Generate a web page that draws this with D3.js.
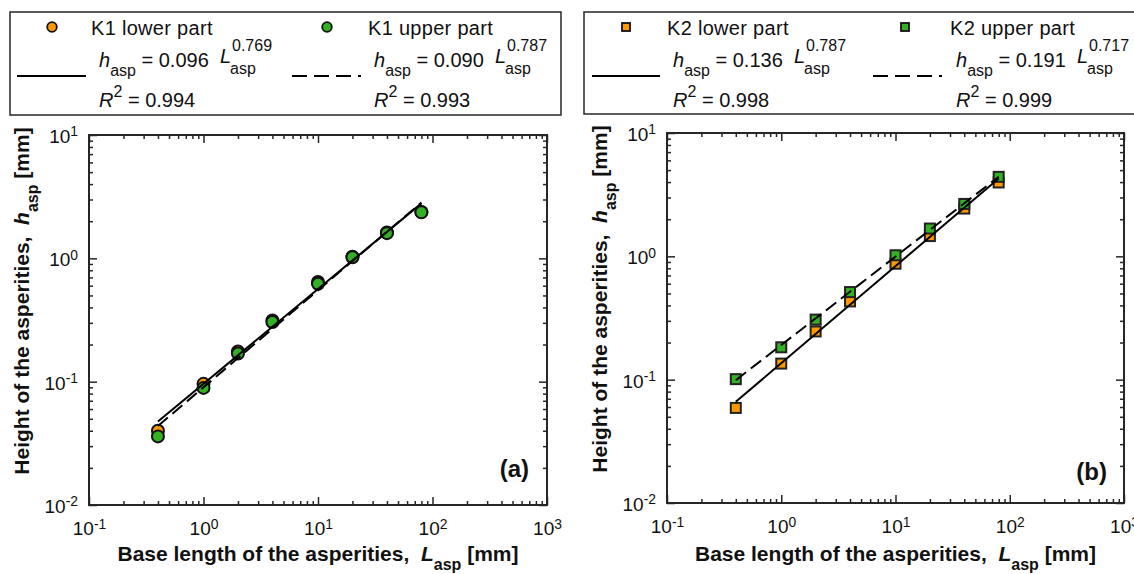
<!DOCTYPE html>
<html>
<head>
<meta charset="utf-8">
<script src="https://cdn.jsdelivr.net/npm/d3@7"></script>
<style>
  html, body { margin: 0; padding: 0; background: #fff; }
  svg { display: block; font-family: "Liberation Sans", Arial, Helvetica, sans-serif; }
  text { white-space: pre; }
</style>
</head>
<body>
<svg id="chart" width="1134" height="574"></svg>
<script>
// Base lengths of the asperities [mm]
const baseLength = [0.4, 1, 2, 4, 10, 20, 40, 80];

// Measured asperity heights [mm]
const k1Lower = [0.040, 0.096, 0.176, 0.314, 0.643, 1.03, 1.62, 2.38];
const k1Upper = [0.036, 0.089, 0.169, 0.305, 0.623, 1.02, 1.60, 2.36];
const k2Lower = [0.059, 0.135, 0.246, 0.431, 0.871, 1.46, 2.44, 3.97];
const k2Upper = [0.101, 0.183, 0.307, 0.513, 1.02, 1.68, 2.66, 4.41];

// Power-law fits h = a * L^b  (lower part, upper part)
const k1FitCoef = [0.096, 0.090];
const k1FitExp  = [0.769, 0.787];
const k1FitR2   = [0.994, 0.993];
const k2FitCoef = [0.136, 0.191];
const k2FitExp  = [0.787, 0.717];
const k2FitR2   = [0.998, 0.999];

const seriesNames = [["K1 lower part", "K1 upper part"], ["K2 lower part", "K2 upper part"]];
const panelTags = ["(a)", "(b)"];

// Axis tick values
const xMajor = [0.1, 1, 10, 100, 1000];
const yMajor = [0.01, 0.1, 1, 10];

const ORANGE = "#ff9900";
const GREEN = "#33b024";
const AXIS = "#262626";

const svg = d3.select("#chart");
svg.append("rect").attr("width", 1134).attr("height", 574).attr("fill", "#fff");

function minorTicks(majors) {
  const out = [];
  for (let i = 0; i < majors.length - 1; i++)
    for (let k = 2; k <= 9; k++) out.push(k * majors[i]);
  return out;
}

function powLabel(sel) {
  sel.each(function (d) {
    const e = Math.round(Math.log10(d));
    const t = d3.select(this);
    t.text("10");
    t.append("tspan").attr("dy", "-0.5em").attr("font-size", "0.73em").text(e);
  });
}

function drawPanel(cfg) {
  const { left, top, right, bottom } = cfg.box;
  const w = right - left, h = bottom - top;
  const x = d3.scaleLog().domain([0.1, 1000]).range([0, w]);
  const y = d3.scaleLog().domain([0.01, 10]).range([h, 0]);
  const g = svg.append("g").attr("transform", `translate(${left},${top})`);

  const xMinor = minorTicks(xMajor), yMinor = minorTicks(yMajor);
  const styleAxis = a => {
    a.select(".domain").remove();
    a.selectAll("line").attr("stroke", AXIS).attr("stroke-width", 1.5);
    a.selectAll("text").attr("fill", "#111").attr("font-size", 19);
  };

  // minor ticks on all four sides (inward)
  g.append("g").attr("transform", `translate(0,${h})`)
    .call(d3.axisBottom(x).tickValues(xMinor).tickSize(-4).tickFormat("")).call(styleAxis);
  g.append("g").call(d3.axisTop(x).tickValues(xMinor).tickSize(-4).tickFormat("")).call(styleAxis);
  g.append("g").call(d3.axisLeft(y).tickValues(yMinor).tickSize(-4).tickFormat("")).call(styleAxis);
  g.append("g").attr("transform", `translate(${w},0)`)
    .call(d3.axisRight(y).tickValues(yMinor).tickSize(-4).tickFormat("")).call(styleAxis);

  // major ticks + labels
  g.append("g").attr("transform", `translate(0,${h})`)
    .call(d3.axisBottom(x).tickValues(xMajor).tickSize(-8).tickPadding(17).tickFormat(d => d))
    .call(styleAxis).call(a => a.selectAll("text").call(powLabel));
  g.append("g").call(d3.axisTop(x).tickValues(xMajor).tickSize(-8).tickFormat("")).call(styleAxis);
  g.append("g")
    .call(d3.axisLeft(y).tickValues(yMajor).tickSize(-8).tickPadding(11).tickFormat(d => d))
    .call(styleAxis).call(a => a.selectAll("text").attr("dy", "0.4em").call(powLabel));
  g.append("g").attr("transform", `translate(${w},0)`)
    .call(d3.axisRight(y).tickValues(yMajor).tickSize(-8).tickFormat("")).call(styleAxis);

  // frame
  g.append("rect").attr("width", w).attr("height", h)
    .attr("fill", "none").attr("stroke", AXIS).attr("stroke-width", 2);

  const pts = (vals) => baseLength.map((L, i) => [L, vals[i]]);
  const plot = g.append("g");

  // data markers
  [[cfg.lower, ORANGE], [cfg.upper, GREEN]].forEach(([vals, col]) => {
    const sel = plot.selectAll(null).data(pts(vals)).enter();
    if (cfg.shape === "circle") {
      sel.append("circle").attr("cx", d => x(d[0])).attr("cy", d => y(d[1])).attr("r", 6)
        .attr("fill", col).attr("stroke", "#111").attr("stroke-width", 2);
    } else {
      sel.append("rect").attr("x", d => x(d[0]) - 5).attr("y", d => y(d[1]) - 5)
        .attr("width", 10).attr("height", 10)
        .attr("fill", col).attr("stroke", "#222").attr("stroke-width", 2);
    }
  });

  // fitted power laws over the measured range
  const ext = d3.extent(baseLength);
  const line = d3.line().x(d => x(d[0])).y(d => y(d[1]));
  cfg.coef.forEach((a, i) => {
    const b = cfg.exp[i];
    plot.append("path")
      .attr("d", line(ext.map(L => [L, a * Math.pow(L, b)])))
      .attr("fill", "none").attr("stroke", "#000").attr("stroke-width", 2)
      .attr("stroke-dasharray", i === 1 ? "13,6" : null);
  });

  // panel tag
  g.append("text").attr("x", cfg.tagX - left).attr("y", cfg.tagY - top)
    .attr("text-anchor", "end").attr("font-size", 24).attr("font-weight", "bold")
    .attr("fill", "#111").text(cfg.tag);

  // axis titles
  const xt = svg.append("text").attr("x", left + w / 2).attr("y", 561)
    .attr("text-anchor", "middle").attr("font-size", 21).attr("font-weight", "bold").attr("fill", "#111");
  xt.append("tspan").text("Base length of the asperities,  ");
  xt.append("tspan").attr("font-style", "italic").text("L");
  xt.append("tspan").attr("font-size", 16).attr("dy", 9).text("asp");
  xt.append("tspan").attr("dy", -9).text(" [mm]");

  const yt = svg.append("text")
    .attr("transform", `translate(${left - 60},${cfg.yTitleCenter}) rotate(-90)`)
    .attr("text-anchor", "middle").attr("font-size", 21).attr("font-weight", "bold").attr("fill", "#111");
  yt.append("tspan").text("Height of the asperities,  ");
  yt.append("tspan").attr("font-style", "italic").text("h");
  yt.append("tspan").attr("font-size", 16).attr("dy", 9).text("asp");
  yt.append("tspan").attr("dy", -9).text(" [mm]");
}

// ---- legend ----
function drawLegend(cfg) {
  const g = svg.append("g");
  g.append("rect").attr("x", cfg.box[0]).attr("y", cfg.box[1])
    .attr("width", cfg.box[2] - cfg.box[0]).attr("height", cfg.box[3] - cfg.box[1])
    .attr("fill", "#fff").attr("stroke", AXIS).attr("stroke-width", 1.5);

  cfg.cols.forEach((c, i) => {
    const col = i === 0 ? ORANGE : GREEN;
    // marker
    if (cfg.shape === "circle") {
      g.append("circle").attr("cx", c.marker).attr("cy", 27).attr("r", 4.8)
        .attr("fill", col).attr("stroke", "#111").attr("stroke-width", 1.8);
    } else {
      g.append("rect").attr("x", c.marker - 4).attr("y", 23).attr("width", 8).attr("height", 8)
        .attr("fill", col).attr("stroke", "#111").attr("stroke-width", 1.8);
    }
    g.append("text").attr("x", c.label).attr("y", 35).attr("font-size", 20)
      .attr("letter-spacing", 0.3).attr("fill", "#111")
      .text(cfg.names[i]);

    // line sample
    g.append("line").attr("x1", c.line[0]).attr("x2", c.line[1]).attr("y1", 76).attr("y2", 76)
      .attr("stroke", "#000").attr("stroke-width", 2)
      .attr("stroke-dasharray", i === 1 ? "15,7" : null);

    // fit equation
    const t = g.append("text").attr("x", c.eq).attr("y", 67).attr("font-size", 20).attr("fill", "#111");
    t.append("tspan").attr("font-style", "italic").text("h");
    t.append("tspan").attr("font-size", 16).attr("dy", 9).text("asp");
    t.append("tspan").attr("dy", -9).text(` = ${cfg.coef[i].toFixed(3)}  `);
    const lx = c.eq + t.node().getComputedTextLength();
    const L = g.append("text").attr("x", lx).attr("y", 63).attr("font-size", 20)
      .attr("font-style", "italic").attr("fill", "#111").text("L");
    const lw = L.node().getComputedTextLength();
    g.append("text").attr("x", lx + lw + 1).attr("y", 51).attr("font-size", 16).attr("fill", "#111")
      .text(cfg.exp[i].toFixed(3));
    g.append("text").attr("x", lx + lw - 1).attr("y", 74).attr("font-size", 16).attr("fill", "#111")
      .text("asp");

    // coefficient of determination
    const r = g.append("text").attr("x", c.eq).attr("y", 107).attr("font-size", 20).attr("fill", "#111");
    r.append("tspan").attr("font-style", "italic").text("R");
    r.append("tspan").attr("font-size", 16).attr("dy", -10).text("2");
    r.append("tspan").attr("dy", 10).text(` = ${cfg.r2[i].toFixed(3)}`);
  });
}

drawPanel({
  box: { left: 89, top: 135, right: 547, bottom: 505 },
  lower: k1Lower, upper: k1Upper, coef: k1FitCoef, exp: k1FitExp,
  shape: "circle", tag: panelTags[0], tagX: 529, tagY: 477, yTitleCenter: 301
});
drawPanel({
  box: { left: 667, top: 133, right: 1124, bottom: 503 },
  lower: k2Lower, upper: k2Upper, coef: k2FitCoef, exp: k2FitExp,
  shape: "square", tag: panelTags[1], tagX: 1107, tagY: 480, yTitleCenter: 299
});

drawLegend({
  box: [10, 12, 561, 115], shape: "circle", names: seriesNames[0],
  coef: k1FitCoef, exp: k1FitExp, r2: k1FitR2,
  cols: [
    { marker: 52, label: 91, line: [17, 86], eq: 99 },
    { marker: 327, label: 368, line: [292, 361], eq: 374 }
  ]
});
drawLegend({
  box: [584, 12, 1142, 114], shape: "square", names: seriesNames[1],
  coef: k2FitCoef, exp: k2FitExp, r2: k2FitR2,
  cols: [
    { marker: 626, label: 667, line: [592, 660], eq: 673 },
    { marker: 905, label: 950, line: [873, 942], eq: 956 }
  ]
});
</script>
</body>
</html>
